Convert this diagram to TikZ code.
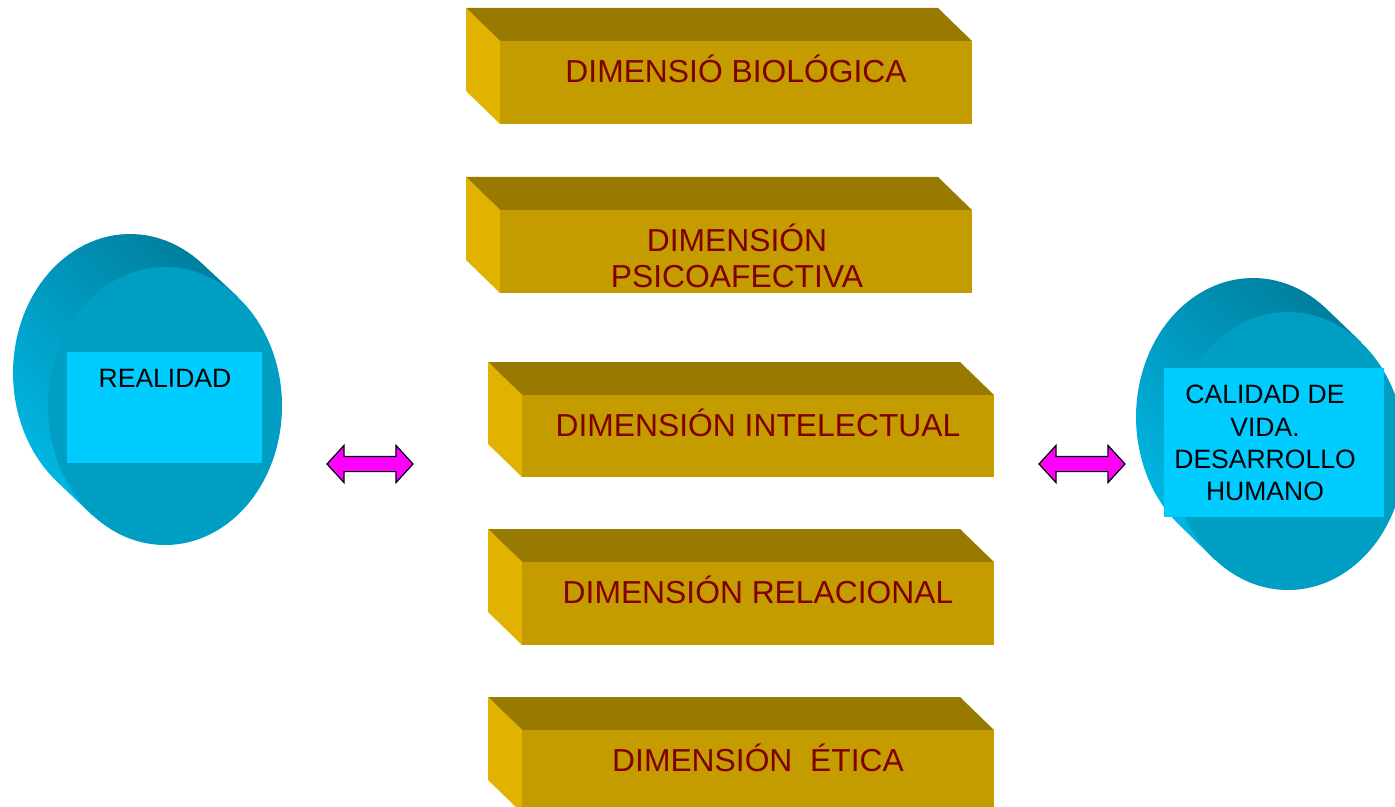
\documentclass[tikz,border=0pt]{standalone}
\usepackage{fontspec}
\setmainfont{Liberation Sans}
\usetikzlibrary{shapes.arrows}
\definecolor{dimtopc}{HTML}{997A00}
\definecolor{dimfrontc}{HTML}{C49C00}
\definecolor{dimsidec}{HTML}{E1B200}
\definecolor{dimred}{HTML}{800000}
\definecolor{cylfrontc}{HTML}{009EC2}
\definecolor{cylhi}{HTML}{00B6E2}
\definecolor{cyllo}{HTML}{0080A0}
\definecolor{cylboxc}{HTML}{00CCFF}
\definecolor{flechac}{HTML}{FF00FF}
\tikzset{
  dimtop/.style={fill=dimtopc},
  dimfront/.style={fill=dimfrontc},
  dimside/.style={fill=dimsidec},
  dimtext/.style={text=dimred, align=center, font=\fontsize{18.1}{20.4}\selectfont},
  cylside/.style={left color=cylhi, right color=cyllo, shading angle=135},
  cyltext/.style={text=black, align=center, font=\fontsize{15.1}{18.3}\selectfont},
  flecha/.style={shape=double arrow, draw=black, fill=flechac, line width=0.7pt,
    inner sep=0pt, inner ysep=0.14cm, minimum height=1.72cm,
    double arrow head extend=0.22cm, double arrow tip angle=95},
}

\begin{document}
\begin{tikzpicture}[x=0.02cm, y=-0.02cm]
\useasboundingbox (0,0) rectangle (1395,807);
\clip (0,0) rectangle (1395,807);
% left cylinder
\shade[cylside] plot[domain=128.4:308.4, samples=60] ({130+117*cos(\x)},{373+139*sin(\x)}) -- (238,297) -- (92,515) -- cycle;
\fill[cylfrontc] (165,406) ellipse [x radius=117, y radius=139];
\fill[cylboxc] (67,352) rectangle (262,463);
\node[cyltext, anchor=base] (realidad) at (165,387) {REALIDAD};
% right cylinder
\shade[cylside] plot[domain=128.4:308.4, samples=60] ({1253+117*cos(\x)},{417+139*sin(\x)}) -- (1361,342) -- (1215,560) -- cycle;
\fill[cylfrontc] (1288,451) ellipse [x radius=117, y radius=139];
\fill[cylboxc] (1164,368) rectangle (1384,517);
\node[cyltext] (calidad) at (1265,443) {CALIDAD DE\\VIDA.\\DESARROLLO\\HUMANO};
% boxes
\fill[dimtop] (466,8) -- (938,8) -- (972,41) -- (500,41) -- cycle;
\fill[dimside] (466,8) -- (500,41) -- (500,124) -- (466,91) -- cycle;
\fill[dimfront] (500,41) rectangle (972,124);
\fill[dimtop] (466,177) -- (938,177) -- (972,210) -- (500,210) -- cycle;
\fill[dimside] (466,177) -- (500,210) -- (500,293) -- (466,260) -- cycle;
\fill[dimfront] (500,210) rectangle (972,293);
\fill[dimtop] (488,362) -- (960,362) -- (994,395) -- (522,395) -- cycle;
\fill[dimside] (488,362) -- (522,395) -- (522,477) -- (488,444) -- cycle;
\fill[dimfront] (522,395) rectangle (994,477);
\fill[dimtop] (488,529) -- (960,529) -- (994,562) -- (522,562) -- cycle;
\fill[dimside] (488,529) -- (522,562) -- (522,645) -- (488,612) -- cycle;
\fill[dimfront] (522,562) rectangle (994,645);
\fill[dimtop] (488,697) -- (960,697) -- (994,730) -- (522,730) -- cycle;
\fill[dimside] (488,697) -- (522,730) -- (522,813) -- (488,780) -- cycle;
\fill[dimfront] (522,730) rectangle (994,813);
\node[dimtext, anchor=base] (bio) at (736,83) {DIMENSIÓ BIOLÓGICA};
\node[dimtext] (psico) at (737,256) {DIMENSIÓN\\PSICOAFECTIVA};
\node[dimtext, anchor=base] (intel) at (758,436) {DIMENSIÓN INTELECTUAL};
\node[dimtext, anchor=base] (rel) at (758,603) {DIMENSIÓN RELACIONAL};
\node[dimtext, anchor=base] (etica) at (758,771) {DIMENSIÓN\ \ ÉTICA};
% arrows
\node[flecha] (flechaL) at (370,464) {};
\node[flecha] (flechaR) at (1082,464) {};
\end{tikzpicture}
\end{document}
